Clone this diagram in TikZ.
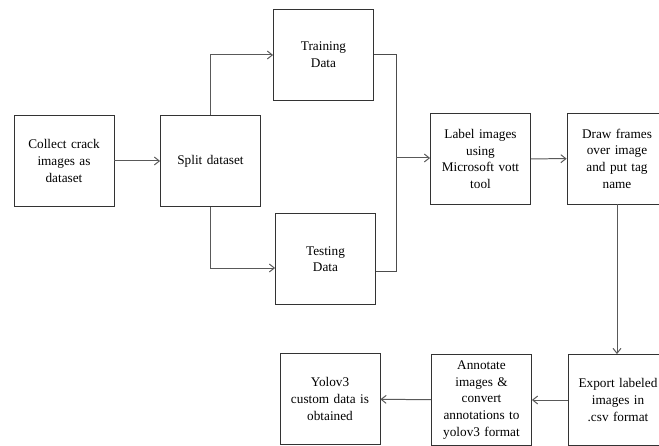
\documentclass[tikz,border=0pt]{standalone}
\usepackage{fontspec}
\setmainfont{Liberation Serif}
\usepackage{tikz}
\usetikzlibrary{positioning,arrows.meta,calc}

\begin{document}
\begin{tikzpicture}[
    x=1bp,y=-1bp,
    font=\fontsize{13.3}{16.7}\selectfont,
    stage/.style={draw=black!80,line width=0.8pt,minimum width=100bp,
      minimum height=91bp,align=center,inner sep=2pt,text width=94bp},
    flow/.style={-{Straight Barb[length=5pt,width=8pt]},line width=1pt,draw=black!65},
    link/.style={line width=1pt,draw=black!70}
]
\useasboundingbox (0,0) rectangle (659,446);

\node[stage] (collect)  at (64,161)  {Collect crack\\images as\\dataset};
\node[stage] (split)    at (210.5,161) {Split dataset};
\node[stage] (train)    at (323.5,55) {Training\\Data\\[18bp]};
\node[stage] (test)     at (325.5,259) {Testing\\Data\\[18bp]};
\node[stage] (label)    at (480.5,159) {Label images\\using\\Microsoft vott\\tool};
\node[stage] (frames)   at (617,158.5) {Draw frames\\over image\\and put tag\\name};
\node[stage] (export)   at (618,400) {Export labeled\\images in\\.csv format};
\node[stage] (annotate) at (481.5,400) {Annotate\\images \&\\convert\\annotations to\\yolov3 format};
\node[stage] (yolo)     at (330,399) {Yolov3\\custom data is\\obtained};

\coordinate (merge) at (396,158);

\draw[flow] (collect) -- (split);
\draw[flow] (split.north) |- (train.west);
\draw[flow] (split.south) |- ([yshift=-9bp]test.west);
\draw[link] (train.east) -| (merge);
\draw[link] ([yshift=-12bp]test.east) -| (merge);
\draw[flow] (merge) -- (label.west |- merge);
\draw[flow] (label) -- (frames);
\draw[flow] (frames.south) -- (export.north -| frames.south);
\draw[flow] (export) -- (annotate);
\draw[flow] (annotate) -- (yolo);
\end{tikzpicture}
\end{document}
